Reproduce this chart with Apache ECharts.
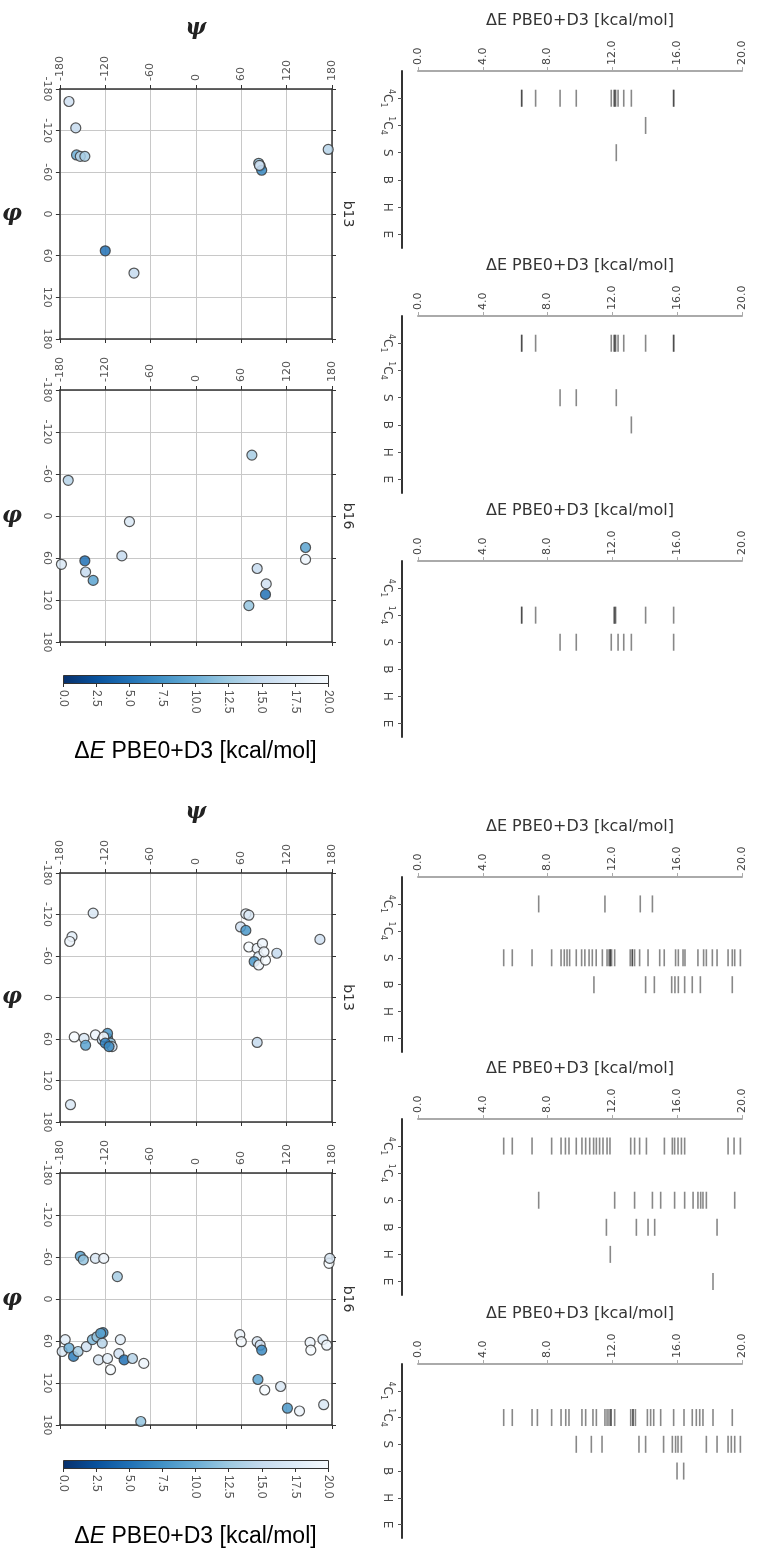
<!DOCTYPE html>
<html><head><meta charset="utf-8">
<script src="https://cdn.jsdelivr.net/npm/echarts@6/dist/echarts.min.js"></script>
<style>html,body{margin:0;padding:0;background:#fff}#c{width:759px;height:1555px}</style>
</head><body><div id="c"></div>
<script>
// ---------- DATA ----------
const catLabels = ['{sup|4}C{sub|1}', '{sup|1}C{sub|4}', 'S', 'B', 'H', 'E'];
const energyTitle = 'ΔE PBE0+D3 [kcal/mol]';
const scatNames = ['b13', 'b16', 'b13', 'b16'];

// strip plots: one array per puckering class (4C1, 1C4, S, B, H, E)
const strip1 = [
  [6.40, 6.40, 7.26, 8.77, 9.77, 11.93, 12.10, 12.15, 12.20, 12.35, 12.70, 13.17, 15.78, 15.78],
  [14.05], [12.24], [], [], []
];
const strip2 = [
  [6.40, 6.40, 7.26, 11.93, 12.10, 12.15, 12.20, 12.35, 12.70, 14.05, 15.78, 15.78],
  [], [8.77, 9.77, 12.24], [13.17], [], []
];
const strip3 = [
  [],
  [6.40, 6.40, 7.26, 12.10, 12.15, 12.20, 14.05, 15.78],
  [8.77, 9.77, 11.93, 12.35, 12.70, 13.17, 15.78], [], [], []
];
const strip4 = [
  [7.45, 11.54, 13.72, 14.47],
  [],
  [5.29, 5.82, 7.04, 8.25, 8.83, 9.03, 9.20, 9.36, 9.77, 10.10, 10.30, 10.56, 10.76, 11.00, 11.38, 11.67, 11.79, 11.87, 11.87, 11.95, 12.14, 13.10, 13.23, 13.23, 13.37, 13.68, 14.20, 14.92, 15.20, 15.90, 16.07, 16.36, 16.48, 17.28, 17.63, 17.80, 18.17, 18.46, 19.14, 19.40, 19.55, 19.90],
  [10.86, 14.05, 14.59, 15.66, 15.86, 16.07, 16.46, 16.93, 17.43, 19.40],
  [], []
];
const strip5 = [
  [5.29, 5.82, 7.04, 8.25, 8.83, 9.10, 9.32, 9.77, 10.12, 10.35, 10.60, 10.84, 11.01, 11.21, 11.42, 11.67, 11.85, 13.13, 13.37, 13.68, 14.10, 15.21, 15.70, 15.84, 16.05, 16.26, 16.46, 19.14, 19.51, 19.90],
  [],
  [7.45, 12.14, 13.37, 14.47, 14.98, 15.84, 16.46, 16.98, 17.28, 17.45, 17.59, 17.80, 19.55],
  [11.63, 13.48, 14.20, 14.61, 18.46],
  [11.87],
  [18.21]
];
const strip6 = [
  [],
  [5.29, 5.82, 7.04, 7.37, 8.25, 8.83, 9.12, 9.32, 10.12, 10.35, 10.80, 11.01, 11.54, 11.67, 11.79, 11.91, 11.91, 12.14, 13.13, 13.27, 13.27, 13.42, 14.16, 14.36, 14.55, 14.98, 15.78, 16.42, 16.93, 17.18, 17.39, 17.59, 18.21, 19.40],
  [9.77, 10.70, 11.36, 13.64, 14.05, 15.16, 15.70, 15.90, 16.05, 16.26, 17.80, 18.46, 19.14, 19.34, 19.55, 19.90],
  [15.99, 16.40],
  [], []
];

// dihedral scatter points: [psi, phi, dE]
const b13Top = [
  [-168, -162, 16], [-159, -124, 15], [-158, -85, 10], [-153, -83, 14], [-147, -83, 13],
  [-120, 53, 5], [-82, 85, 15], [83, -73, 12], [85, -69, 13], [87, -63, 7], [84, -70, 16], [175, -93, 14]
];
const b16Top = [
  [-169, -51, 14], [-88, 8, 17], [-98, 57, 15], [-147, 64, 5], [-146, 80, 15], [-136, 92, 9],
  [-178, 69, 17], [74, -87, 13], [81, 75, 15], [93, 97, 16], [92, 112, 5], [70, 128, 12],
  [145, 45, 9], [145, 62, 19]
];
const b13Bot = [
  [-136, -122, 17], [-164, -88, 18], [-167, -81, 19], [-166, 155, 17],
  [66, -121, 18], [70, -119, 17], [59, -102, 16], [66, -97, 8], [70, -73, 20], [81, -71, 19],
  [88, -78, 19], [83, -59, 18], [77, -52, 8], [83, -47, 19], [92, -54, 20], [107, -64, 15],
  [90, -66, 19], [164, -84, 16], [81, 65, 15],
  [-161, 57, 20], [-148, 59, 17], [-146, 69, 9], [-133, 54, 19], [-124, 61, 15], [-117, 59, 10],
  [-117, 52, 8], [-113, 66, 12], [-122, 57, 20], [-111, 71, 16], [-120, 66, 6], [-115, 71, 7]
];
const b16Bot = [
  [-153, -61, 9], [-149, -56, 12], [-133, -58, 17], [-122, -58, 19], [-104, -32, 13],
  [-173, 58, 18], [-177, 75, 17], [-168, 70, 10], [-162, 82, 6], [-156, 75, 13], [-145, 68, 16],
  [-137, 58, 11], [-131, 54, 12], [-123, 48, 7], [-124, 63, 14], [-129, 87, 17], [-117, 85, 18],
  [-113, 101, 20], [-100, 58, 18], [-102, 78, 16], [-95, 87, 5], [-84, 85, 14], [-69, 92, 19],
  [-73, 175, 12], [-126, 49, 9],
  [58, 51, 19], [60, 61, 20], [81, 61, 17], [85, 66, 16], [87, 73, 7], [82, 115, 9], [91, 130, 20],
  [112, 125, 17], [121, 156, 8], [137, 160, 19], [151, 62, 19], [152, 73, 20], [168, 58, 18],
  [173, 66, 19], [176, -51, 20], [177, -58, 17], [169, 151, 17]
];

const bluesR = ['#08306b', '#08519c', '#2171b5', '#4292c6', '#6baed6', '#9ecae1', '#c6dbef', '#deebf7', '#f7fbff'];

// ---------- LAYOUT ----------
const strips = [strip1, strip2, strip3, strip4, strip5, strip6];
const stripTops = [71, 316, 561, 877, 1119, 1364];
const stripH = [177, 177, 176, 175, 176, 174];
const scats = [b13Top, b16Top, b13Bot, b16Bot];
const scatTops = [89, 390, 873, 1173];
const scatH = [250, 252, 249, 252];
const cbTops = [675, 1460];
const CB = { left: 63, width: 265, height: 8 };

const grids = [], xAxes = [], yAxes = [], series = [];
const FONT = 'DejaVu Sans';

strips.forEach((sd, i) => {
  grids.push({ left: 418, width: 324, top: stripTops[i], height: stripH[i] });
  xAxes.push({
    gridIndex: i, type: 'value', position: 'top', min: 0, max: 20, interval: 4,
    name: energyTitle, nameLocation: 'middle', nameGap: 42,
    nameTextStyle: { fontSize: 16, color: '#333', fontFamily: FONT },
    axisLine: { show: true, onZero: false, lineStyle: { color: '#aaa', width: 2 } },
    axisTick: { show: true, length: 4, lineStyle: { color: '#aaa', width: 1 } },
    axisLabel: { rotate: -90, fontSize: 11, color: '#444', fontFamily: FONT, margin: 6,
      formatter: v => v.toFixed(1) },
    splitLine: { show: false }
  });
  yAxes.push({
    gridIndex: i, type: 'value', min: -1, max: 5.5, inverse: true, offset: 16,
    axisLine: { show: true, onZero: false, lineStyle: { color: '#333', width: 2 } },
    axisTick: { show: true, length: 4, customValues: [0, 1, 2, 3, 4, 5], lineStyle: { color: '#555' } },
    axisLabel: {
      rotate: -90, customValues: [0, 1, 2, 3, 4, 5], margin: 7,
      fontSize: 12, color: '#444', fontFamily: FONT, lineHeight: 16,
      formatter: v => catLabels[Math.round(v)] || '',
      rich: {
        sup: { fontSize: 8, color: '#444', fontFamily: FONT, verticalAlign: 'top', lineHeight: 16 },
        sub: { fontSize: 8, color: '#444', fontFamily: FONT, verticalAlign: 'bottom', lineHeight: 16 }
      }
    },
    splitLine: { show: false }
  });
  const data = [];
  sd.forEach((vals, c) => vals.forEach(v => data.push([v, c])));
  series.push({
    type: 'scatter', xAxisIndex: i, yAxisIndex: i, data,
    symbol: 'rect', symbolSize: [1.6, 17],
    itemStyle: { color: '#111', opacity: 0.5 }, silent: true
  });
});

const scatSeriesIdx = [];
scats.forEach((sd, j) => {
  const g = grids.length;
  grids.push({ left: 59, width: 273, top: scatTops[j], height: scatH[j] });
  const xi = xAxes.length;
  const frameLine = { show: true, onZero: false, lineStyle: { color: '#333', width: 1.5 } };
  xAxes.push({
    gridIndex: g, type: 'value', position: 'top', min: -180, max: 180, interval: 60,
    name: j % 2 === 0 ? 'ψ' : '', nameLocation: 'middle', nameGap: 50,
    nameTextStyle: { fontSize: 22, fontStyle: 'italic', fontWeight: 'bold', color: '#222', fontFamily: 'DejaVu Serif' },
    axisLine: frameLine,
    axisTick: { show: true, length: 4, lineStyle: { color: '#333' } },
    axisLabel: { rotate: -90, fontSize: 11, color: '#555', fontFamily: FONT, margin: 8 },
    splitLine: { show: true, lineStyle: { color: '#c8c8c8', width: 1 } }
  });
  xAxes.push({
    gridIndex: g, type: 'value', position: 'bottom', min: -180, max: 180, interval: 60,
    axisLine: frameLine,
    axisTick: { show: true, length: 4, lineStyle: { color: '#333' } },
    axisLabel: { show: false }, splitLine: { show: false }
  });
  const yi = yAxes.length;
  yAxes.push({
    gridIndex: g, type: 'value', position: 'left', min: -180, max: 180, interval: 60, inverse: true,
    name: 'φ', nameLocation: 'middle', nameGap: 38, nameRotate: 0,
    nameTextStyle: { fontSize: 22, fontStyle: 'italic', fontWeight: 'bold', color: '#222', fontFamily: 'DejaVu Serif' },
    axisLine: frameLine,
    axisTick: { show: true, length: 4, lineStyle: { color: '#333' } },
    axisLabel: { rotate: -90, fontSize: 11, color: '#555', fontFamily: FONT, margin: 8 },
    splitLine: { show: true, lineStyle: { color: '#c8c8c8', width: 1 } }
  });
  yAxes.push({
    gridIndex: g, type: 'value', position: 'right', min: -180, max: 180, interval: 60, inverse: true,
    name: scatNames[j], nameLocation: 'middle', nameGap: 9, nameRotate: -90,
    nameTextStyle: { fontSize: 14, color: '#333', fontFamily: FONT },
    axisLine: frameLine,
    axisTick: { show: true, length: 4, lineStyle: { color: '#333' } },
    axisLabel: { show: false }, splitLine: { show: false }
  });
  scatSeriesIdx.push(series.length);
  series.push({
    type: 'scatter', xAxisIndex: xi, yAxisIndex: yi, data: sd,
    symbol: 'circle', symbolSize: 10,
    itemStyle: { borderColor: '#3a3a3a', borderWidth: 1.2, opacity: 0.85 }
  });
});

const graphics = [];
cbTops.forEach(top => {
  const g = grids.length;
  grids.push({ left: CB.left, width: CB.width, top: top, height: CB.height });
  xAxes.push({
    gridIndex: g, type: 'value', position: 'bottom', min: 0, max: 20, interval: 2.5,
    name: '{d|Δ}{e|E}{d| PBE0+D3 [kcal/mol]}', nameLocation: 'middle', nameGap: 57,
    nameTextStyle: { rich: {
      d: { fontSize: 23, color: '#000', fontFamily: 'Liberation Sans' },
      e: { fontSize: 23, color: '#000', fontFamily: 'Liberation Sans', fontStyle: 'italic' }
    } },
    axisLine: { show: false, onZero: false },
    axisTick: { show: true, length: 4, lineStyle: { color: '#333' } },
    axisLabel: { rotate: -90, fontSize: 12, color: '#555', fontFamily: 'Liberation Sans', margin: 7,
      formatter: v => v.toFixed(1) },
    splitLine: { show: false }
  });
  yAxes.push({ gridIndex: g, type: 'value', min: 0, max: 1, show: false });
  graphics.push({
    type: 'rect', left: CB.left, top: top, z: 10,
    shape: { width: CB.width, height: CB.height },
    style: {
      fill: { type: 'linear', x: 0, y: 0, x2: 1, y2: 0,
        colorStops: bluesR.map((c, k) => ({ offset: k / (bluesR.length - 1), color: c })) },
      stroke: '#333', lineWidth: 1
    }
  });
});

const chart = echarts.init(document.getElementById('c'));
chart.setOption({
  animation: false,
  backgroundColor: '#fff',
  grid: grids, xAxis: xAxes, yAxis: yAxes, series,
  visualMap: {
    show: false, type: 'continuous', min: 0, max: 20, dimension: 2,
    seriesIndex: scatSeriesIdx, inRange: { color: bluesR }
  },
  graphic: graphics
});
</script>
</body></html>
